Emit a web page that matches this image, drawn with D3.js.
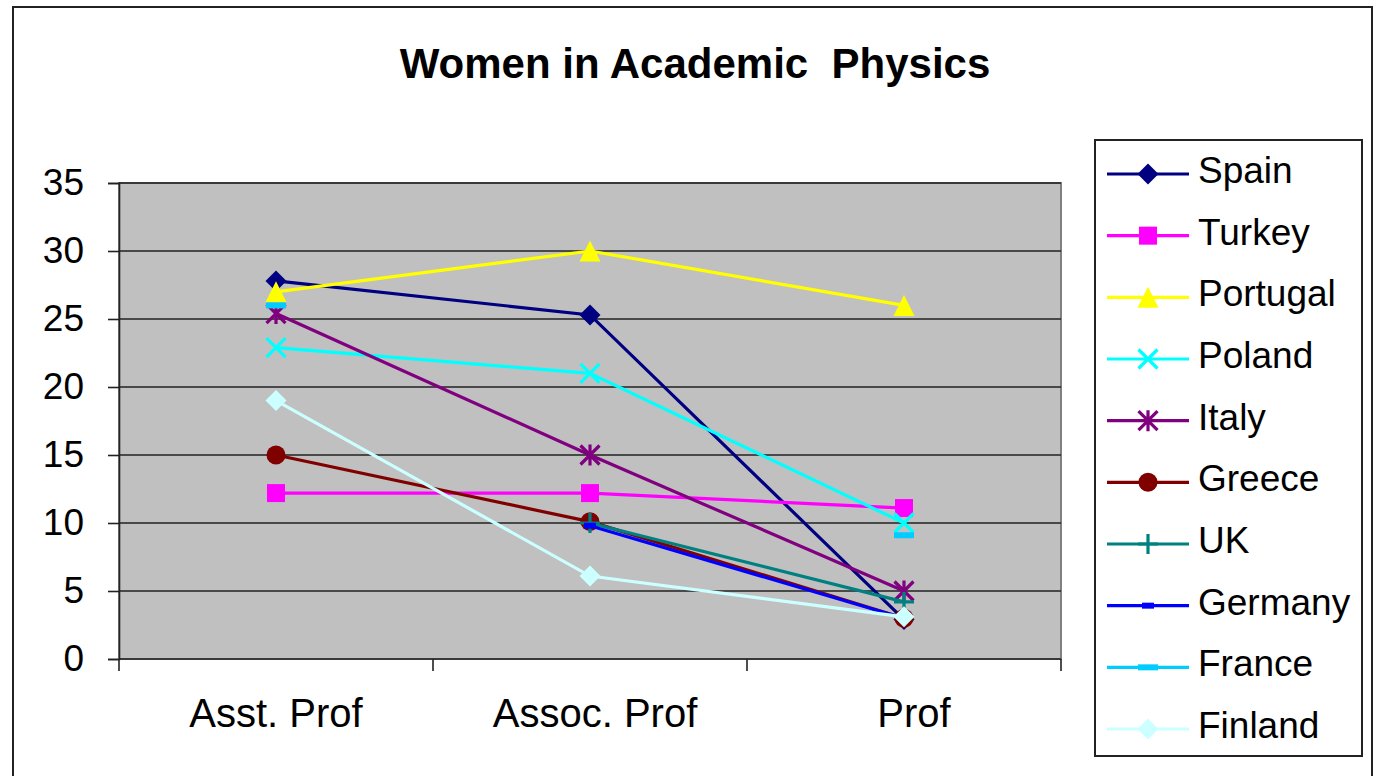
<!DOCTYPE html>
<html>
<head>
<meta charset="utf-8">
<script src="https://cdn.jsdelivr.net/npm/d3@7"></script>
<style>
  html, body { margin: 0; padding: 0; background: #ffffff; }
  svg { display: block; font-family: Arial, "Liberation Sans", sans-serif; }
</style>
</head>
<body>
<svg id="chart" width="1376" height="776"></svg>
<script>
// Share of women (%) at each academic rank, by country
const categories = ["Asst. Prof", "Assoc. Prof", "Prof"];
const yTicks = [0, 5, 10, 15, 20, 25, 30, 35];

const spain    = [27.8, 25.3, 2.9];
const turkey   = [12.2, 12.2, 11.1];
const portugal = [27.0, 30.0, 26.0];
const poland   = [22.9, 21.0, 10.0];
const italy    = [25.4, 15.0, 5.0];
const greece   = [15.0, 10.1, 3.0];
const uk       = [null, 10.0, 4.2];
const germany  = [null, 9.8, 3.0];
const france   = [26.0, null, 9.1];
const finland  = [19.0, 6.1, 3.1];

const seriesNames = ["Spain", "Turkey", "Portugal", "Poland", "Italy",
                     "Greece", "UK", "Germany", "France", "Finland"];
const seriesValues = [spain, turkey, portugal, poland, italy,
                      greece, uk, germany, france, finland];
const seriesColors = ["#000080", "#FF00FF", "#FFFF00", "#00FFFF", "#800080",
                      "#800000", "#008080", "#0000FF", "#00CCFF", "#CCFFFF"];
const seriesMarkers = ["diamond", "square", "triangle", "cross", "star",
                       "circle", "plus", "shortdash", "longdash", "diamond"];

const svg = d3.select("#chart");

// chart frame
svg.append("rect")
  .attr("x", 13).attr("y", 7).attr("width", 1359).attr("height", 775)
  .attr("fill", "#ffffff").attr("stroke", "#222").attr("stroke-width", 2);

// title
svg.append("text")
  .attr("x", 695).attr("y", 78)
  .attr("text-anchor", "middle")
  .attr("font-size", 42).attr("font-weight", "bold")
  .attr("fill", "#000")
  .attr("xml:space", "preserve")
  .text("Women in Academic  Physics");

// plot area
const plot = { left: 119, right: 1061, top: 183, bottom: 659 };

const x = d3.scaleBand().domain(categories).range([plot.left, plot.right]).padding(0);
const y = d3.scaleLinear().domain([0, 35]).range([plot.bottom, plot.top]);
const cx = c => x(c) + x.bandwidth() / 2;

svg.append("rect")
  .attr("x", plot.left).attr("y", plot.top)
  .attr("width", plot.right - plot.left).attr("height", plot.bottom - plot.top)
  .attr("fill", "#C0C0C0").attr("stroke", "#808080").attr("stroke-width", 2);

// gridlines
svg.append("g")
  .selectAll("line")
  .data(yTicks.filter(d => d > 0))
  .join("line")
  .attr("x1", plot.left).attr("x2", plot.right)
  .attr("y1", d => y(d)).attr("y2", d => y(d))
  .attr("stroke", "#222").attr("stroke-width", 1.6);

// y axis
const yAxis = svg.append("g")
  .attr("transform", `translate(${plot.left},0)`)
  .call(d3.axisLeft(y).tickValues(yTicks).tickSize(11).tickPadding(24).tickFormat(d3.format("d")));
yAxis.select(".domain").attr("stroke", "#222").attr("stroke-width", 1.6);
yAxis.selectAll(".tick line").attr("stroke", "#222").attr("stroke-width", 1.6);
yAxis.selectAll(".tick text")
  .attr("font-size", 37).attr("fill", "#000")
  .attr("font-family", "Arial, 'Liberation Sans', sans-serif");

// x axis: ticks sit on the category boundaries
const xAxisG = svg.append("g").attr("transform", `translate(0,${plot.bottom})`);
xAxisG.append("line")
  .attr("x1", plot.left).attr("x2", plot.right)
  .attr("stroke", "#222").attr("stroke-width", 1.6);
const bounds = categories.map(c => x(c)).concat([x(categories[categories.length - 1]) + x.bandwidth()]);
xAxisG.selectAll("line.tk")
  .data(bounds)
  .join("line")
  .attr("class", "tk")
  .attr("x1", d => d).attr("x2", d => d)
  .attr("y1", 0).attr("y2", 12)
  .attr("stroke", "#222").attr("stroke-width", 1.6);
xAxisG.selectAll("text")
  .data(categories)
  .join("text")
  .attr("x", (d, i) => cx(d) + i * 5).attr("y", 68)
  .attr("text-anchor", "middle")
  .attr("font-size", 40).attr("fill", "#000")
  .text(d => d);

// marker shapes
function markerPath(type) {
  switch (type) {
    case "diamond": { const r = 10.5; return `M0,${-r}L${r},0L0,${r}L${-r},0Z`; }
    case "square": { const r = 9; return `M${-r},${-r}H${r}V${r}H${-r}Z`; }
    case "triangle": { const r = 10.5; return `M0,${-r}L${r},${r}L${-r},${r}Z`; }
    case "circle": { const r = 9.5; return d3.arc()({innerRadius: 0, outerRadius: r, startAngle: 0, endAngle: 2 * Math.PI}); }
    case "cross": { const r = 9.5; return `M${-r},${-r}L${r},${r}M${r},${-r}L${-r},${r}`; }
    case "star": { const r = 9.5; return `M${-r},${-r}L${r},${r}M${r},${-r}L${-r},${r}M0,${-r - 1}L0,${r + 1}`; }
    case "plus": { const r = 10; return `M0,${-r}L0,${r}M${-r},0L${r},0`; }
    case "shortdash": return "M-6,-3H6V3H-6Z";
    case "longdash": return "M-10,-3H10V3H-10Z";
  }
}
const strokeOnly = t => t === "cross" || t === "star" || t === "plus";

function drawMarker(g, type, color) {
  g.append("path")
    .attr("d", markerPath(type))
    .attr("fill", strokeOnly(type) ? "none" : color)
    .attr("stroke", strokeOnly(type) ? color : "none")
    .attr("stroke-width", strokeOnly(type) ? 3.2 : 0);
}

const line = d3.line()
  .defined(d => d.v !== null)
  .x(d => cx(d.c))
  .y(d => y(d.v));

const seriesG = svg.append("g");
seriesNames.forEach((name, i) => {
  const pts = categories.map((c, j) => ({ c, v: seriesValues[i][j] }));
  const g = seriesG.append("g");
  g.append("path")
    .datum(pts)
    .attr("d", line)
    .attr("fill", "none")
    .attr("stroke", seriesColors[i])
    .attr("stroke-width", 3.2);
  pts.filter(p => p.v !== null).forEach(p => {
    const m = g.append("g").attr("transform", `translate(${cx(p.c)},${y(p.v)})`);
    drawMarker(m, seriesMarkers[i], seriesColors[i]);
  });
});

// legend
const legend = { left: 1095, top: 140, width: 267, height: 616 };
svg.append("rect")
  .attr("x", legend.left).attr("y", legend.top)
  .attr("width", legend.width).attr("height", legend.height)
  .attr("fill", "#fff").attr("stroke", "#222").attr("stroke-width", 2);

const legendY = d3.scalePoint().domain(seriesNames).range([174, 729]);
seriesNames.forEach((name, i) => {
  const ly = legendY(name);
  const g = svg.append("g");
  g.append("line")
    .attr("x1", 1107).attr("x2", 1189)
    .attr("y1", ly).attr("y2", ly)
    .attr("stroke", seriesColors[i]).attr("stroke-width", 3.2);
  const m = g.append("g").attr("transform", `translate(1148,${ly})`);
  drawMarker(m, seriesMarkers[i], seriesColors[i]);
  g.append("text")
    .attr("x", 1198).attr("y", ly + 9)
    .attr("font-size", 37).attr("fill", "#000")
    .text(name);
});
</script>
</body>
</html>
